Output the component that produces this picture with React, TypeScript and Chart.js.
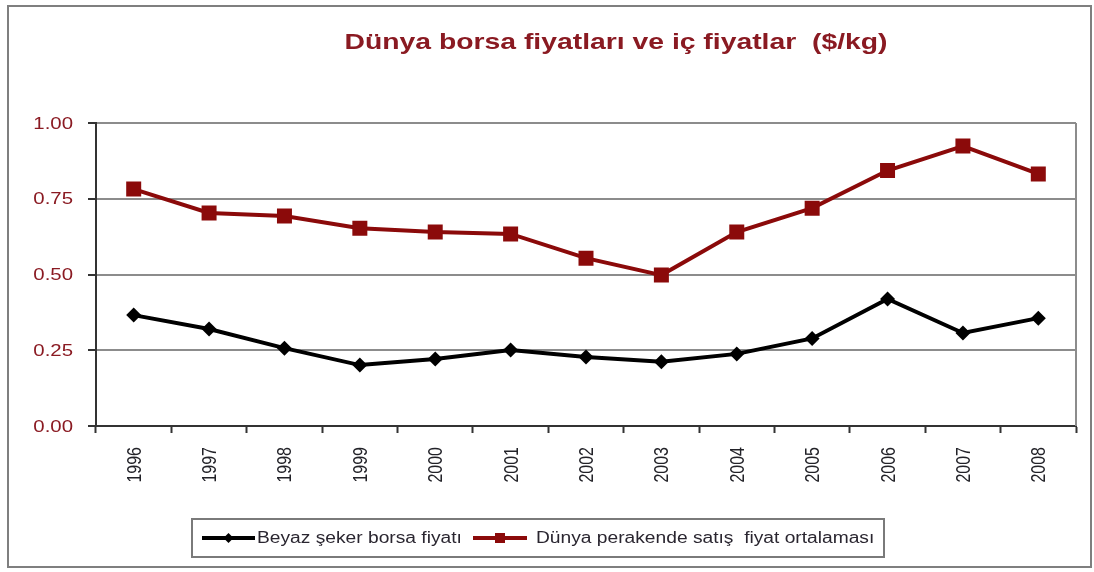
import React, { useEffect, useRef } from "react";
import { Chart, registerables } from "chart.js";

Chart.register(...registerables);

const years = ["1996", "1997", "1998", "1999", "2000", "2001", "2002", "2003", "2004", "2005", "2006", "2007", "2008"];
const beyazSeker = [0.366, 0.32, 0.257, 0.201, 0.221, 0.251, 0.228, 0.212, 0.238, 0.289, 0.419, 0.307, 0.356];
const dunyaPerakende = [0.782, 0.703, 0.693, 0.653, 0.64, 0.634, 0.554, 0.498, 0.64, 0.719, 0.843, 0.924, 0.832];
const yTicks = [0, 0.25, 0.5, 0.75, 1.0];

const titleText = "Dünya borsa fiyatları ve iç fiyatlar  ($/kg)";
const legendLabels = ["Beyaz şeker borsa fiyatı", "Dünya perakende satış  fiyat ortalaması"];

const RED = "#8b0a0a";
const MAROON_TEXT = "#8a1a22";
const FONT = "'Liberation Sans', Arial, sans-serif";
const SX = 1.2;

function drawStretched(ctx: CanvasRenderingContext2D, text: string, x: number, y: number, align: "left" | "right" | "center", sx: number) {
  ctx.save();
  const w = ctx.measureText(text).width * sx;
  let left = x;
  if (align === "right") left = x - w;
  else if (align === "center") left = x - w / 2;
  ctx.translate(left, y);
  ctx.scale(sx, 1);
  ctx.textAlign = "left";
  ctx.fillText(text, 0, 0);
  ctx.restore();
}

const extrasPlugin = {
  id: "extras",
  beforeDatasetsDraw(chart: any) {
    const { ctx, chartArea } = chart;
    ctx.save();
    ctx.strokeStyle = "#8c8c8c";
    ctx.lineWidth = 2;
    ctx.beginPath();
    ctx.moveTo(chartArea.right, chartArea.top);
    ctx.lineTo(chartArea.right, chartArea.bottom);
    ctx.stroke();
    ctx.restore();
  },
  afterDraw(chart: any) {
    const { ctx, chartArea } = chart;
    const yScale = chart.scales.y;
    const xScale = chart.scales.x;
    ctx.save();
    // title
    ctx.fillStyle = MAROON_TEXT;
    ctx.font = `bold 22px ${FONT}`;
    ctx.textBaseline = "alphabetic";
    const tw = ctx.measureText(titleText).width;
    drawStretched(ctx, titleText, 616, 49, "center", 543 / tw);

    // y tick labels
    ctx.font = `17px ${FONT}`;
    ctx.textBaseline = "middle";
    ctx.fillStyle = MAROON_TEXT;
    yScale.ticks.forEach((t: any) => {
      const py = yScale.getPixelForValue(t.value);
      drawStretched(ctx, Number(t.value).toFixed(2), 73, py + 1, "right", SX);
    });

    // x tick labels (rotated)
    ctx.font = `16px ${FONT}`;
    ctx.fillStyle = "#222228";
    ctx.textBaseline = "middle";
    ctx.textAlign = "right";
    (chart.data.labels as string[]).forEach((lab, i) => {
      const px = xScale.getPixelForValue(i);
      ctx.save();
      ctx.translate(px, chartArea.bottom + 21);
      ctx.rotate(-Math.PI / 2);
      ctx.scale(1, 1.3);
      ctx.fillText(lab, 0, 1);
      ctx.restore();
    });

    // legend box
    ctx.strokeStyle = "#7a7a7a";
    ctx.lineWidth = 2;
    ctx.strokeRect(192, 519, 692, 38);
    const ly = 538;
    const ds = chart.data.datasets;
    const items = [
      { x0: 202, x1: 255, tx: 257 },
      { x0: 473, x1: 527, tx: 536 },
    ];
    items.forEach((it, i) => {
      const d = ds[i];
      ctx.strokeStyle = d.borderColor;
      ctx.lineWidth = 4;
      ctx.beginPath();
      ctx.moveTo(it.x0, ly);
      ctx.lineTo(it.x1, ly);
      ctx.stroke();
      ctx.fillStyle = d.borderColor;
      const cx = (it.x0 + it.x1) / 2;
      if (d.pointStyle === "rect") {
        ctx.fillRect(cx - 5, ly - 5, 10, 10);
      } else {
        ctx.beginPath();
        ctx.moveTo(cx, ly - 5);
        ctx.lineTo(cx + 5, ly);
        ctx.lineTo(cx, ly + 5);
        ctx.lineTo(cx - 5, ly);
        ctx.closePath();
        ctx.fill();
      }
      ctx.fillStyle = "#2a2630";
      ctx.font = `16px ${FONT}`;
      ctx.textBaseline = "middle";
      drawStretched(ctx, d.label, it.tx, ly + 1, "left", SX);
    });

    // outer border
    ctx.strokeStyle = "#7f7f7f";
    ctx.lineWidth = 2;
    ctx.strokeRect(8, 6, 1083, 561);
    ctx.restore();
  },
};

export default function App() {
  const ref = useRef<HTMLCanvasElement | null>(null);
  useEffect(() => {
    if (!ref.current) return;
    const chart = new Chart(ref.current, {
      type: "line",
      data: {
        labels: years,
        datasets: [
          {
            label: legendLabels[0],
            data: beyazSeker,
            borderColor: "#000000",
            backgroundColor: "#000000",
            borderWidth: 4,
            pointStyle: "rectRot",
            pointRadius: 7.5,
            pointBorderWidth: 0,
            tension: 0,
          },
          {
            label: legendLabels[1],
            data: dunyaPerakende,
            borderColor: RED,
            backgroundColor: RED,
            borderWidth: 4,
            pointStyle: "rect",
            pointRadius: 10.6,
            pointBorderWidth: 0,
            tension: 0,
          },
        ],
      },
      options: {
        responsive: false,
        animation: false,
        devicePixelRatio: 1,
        layout: { padding: { left: 10, right: 18, top: 123, bottom: 86 } },
        plugins: {
          legend: { display: false },
          title: { display: false },
          tooltip: { enabled: false },
        },
        scales: {
          x: {
            type: "category",
            offset: true,
            grid: {
              offset: true,
              drawOnChartArea: false,
              drawTicks: true,
              tickLength: 7,
              tickColor: "#333333",
              tickWidth: 2,
            },
            border: { display: true, color: "#333333", width: 2 },
            ticks: { display: false, autoSkip: false },
            afterFit: (s: any) => {
              s.height = 60;
            },
          },
          y: {
            min: 0,
            max: 1,
            afterBuildTicks: (s: any) => {
              s.ticks = yTicks.map((v) => ({ value: v }));
            },
            grid: {
              color: "#8c8c8c",
              lineWidth: 2,
              drawTicks: true,
              tickLength: 8,
              tickColor: "#333333",
              tickWidth: 2,
            },
            border: { display: true, color: "#333333", width: 2 },
            ticks: { display: false },
            afterFit: (s: any) => {
              s.width = 86;
            },
          },
        },
      },
      plugins: [extrasPlugin],
    });
    return () => chart.destroy();
  }, []);
  return (
    <div style={{ position: "absolute", left: 0, top: 0, width: 1094, height: 572, background: "#fff" }}>
      <canvas ref={ref} width={1094} height={572} style={{ display: "block" }} />
    </div>
  );
}
